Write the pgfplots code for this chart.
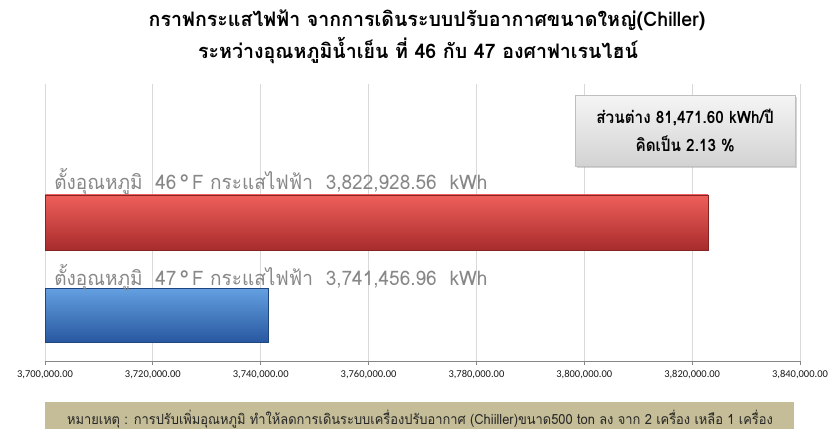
\documentclass[border=0pt]{standalone}
\usepackage{fontspec}
\usepackage{pgfplots}
\pgfplotsset{compat=1.18}
\usetikzlibrary{shadows}
\newfontfamily\thaititle[Script=Thai,FakeStretch=0.98]{Loma}
\newfontfamily\thailabel[Script=Thai,FakeStretch=0.95]{Loma}
\newfontfamily\thaibox[Script=Thai,FakeStretch=0.9]{Loma}
\newfontfamily\thainote[Script=Thai,FakeStretch=0.92]{Loma}
\newfontfamily\tickfont{Carlito}
\definecolor{gridc}{RGB}{217,217,217}
\definecolor{axisc}{RGB}{134,134,134}
\definecolor{labelc}{RGB}{135,135,135}
\definecolor{redtop}{RGB}{238,95,90}
\definecolor{redmid}{RGB}{214,68,64}
\definecolor{redbot}{RGB}{168,44,44}
\definecolor{bluetop}{RGB}{100,160,225}
\definecolor{bluemid}{RGB}{62,122,200}
\definecolor{bluebot}{RGB}{40,88,160}
\definecolor{notec}{RGB}{196,189,151}
\begin{document}
\begin{tikzpicture}[x=1pt,y=1pt]
\path[use as bounding box] (0,0) rectangle (835,429);
% title
\node[font={\thaititle\bfseries\fontsize{20}{22}\selectfont}, anchor=center] at (427,409) {กราฟกระแสไฟฟ้า จากการเดินระบบปรับอากาศขนาดใหญ่(Chiller)};
\node[font={\thaititle\bfseries\fontsize{20}{22}\selectfont}, anchor=center] at (418,378) {ระหว่างอุณหภูมิน้ำเย็น ที่ 46 กับ 47 องศาฟาเรนไฮน์};
\begin{axis}[
  at={(45pt,68pt)}, anchor=south west,
  scale only axis, width=755pt, height=277pt,
  xmin=3700000, xmax=3840000, ymin=1, ymax=278,
  axis y line=none, axis x line*=bottom,
  axis line style={axisc, line width=0.8pt},
  xtick={3700000,3720000,3740000,3760000,3780000,3800000,3820000,3840000},
  tick align=outside, major tick length=4pt,
  tick style={axisc, line width=0.8pt},
  xmajorgrids, grid style={gridc, line width=0.9pt},
  scaled x ticks=false,
  xticklabel style={font=\tickfont\fontsize{10.5}{12}\selectfont, text=black!90, yshift=-2pt},
  /pgf/number format/.cd, fixed, fixed zerofill, precision=2, 1000 sep={,}, assume math mode=true,
]
\addplot[draw=redbot!80!black, line width=0.4pt, top color=redtop, middle color=redmid, bottom color=redbot]
  coordinates {(3700000,112) (3822928.56,112) (3822928.56,167) (3700000,167)} -- cycle;
\addplot[draw=bluebot!80!black, line width=0.4pt, top color=bluetop, middle color=bluemid, bottom color=bluebot]
  coordinates {(3700000,20) (3741456.96,20) (3741456.96,74) (3700000,74)} -- cycle;
\node[anchor=base west, text=labelc, font={\thailabel\fontsize{20}{22}\selectfont}, inner sep=0pt] at (axis cs:3701700,172) {ตั้งอุณหภูมิ\ \ 46\,°\,F กระแสไฟฟ้า\ \ 3,822,928.56\ \ kWh};
\node[anchor=base west, text=labelc, font={\thailabel\fontsize{20}{22}\selectfont}, inner sep=0pt] at (axis cs:3701700,77) {ตั้งอุณหภูมิ\ \ 47\,°\,F กระแสไฟฟ้า\ \ 3,741,456.96\ \ kWh};
\end{axis}
% callout
\node[draw=gray!50, line width=0.3pt, top color=gray!8, bottom color=gray!35, drop shadow={opacity=0.35, shadow xshift=1.5pt, shadow yshift=-1.5pt},
  minimum width=220pt, minimum height=71pt, anchor=north west, align=center,
  font={\thaibox\bfseries\fontsize{17}{28}\selectfont}] at (575,334)
  {ส่วนต่าง 81,471.60 kWh/ปี\\คิดเป็น 2.13 \%};
% note
\fill[notec] (45,0) rectangle (794,27);
\node[font={\thainote\fontsize{14}{16}\selectfont}, text=black!85] at (420,10) {หมายเหตุ : การปรับเพิ่มอุณหภูมิ ทำให้ลดการเดินระบบเครื่องปรับอากาศ (Chiiller)ขนาด500 ton ลง จาก 2 เครื่อง เหลือ 1 เครื่อง};
\end{tikzpicture}
\end{document}
